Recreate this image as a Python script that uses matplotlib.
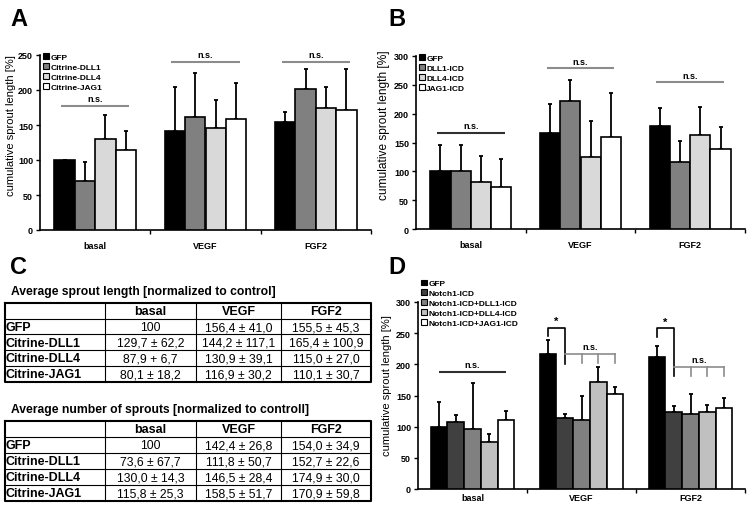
import numpy as np
import matplotlib
matplotlib.use('Agg')
import matplotlib.pyplot as plt
from matplotlib.patches import Patch

plt.rcParams['font.family'] = ['Liberation Sans', 'DejaVu Sans']

# categories
groups = ['basal', 'VEGF', 'FGF2']

# panel A: Citrine ligands
a_names = ['GFP', 'Citrine-DLL1', 'Citrine-DLL4', 'Citrine-JAG1']
a_mean = [[100, 142, 154],
          [70, 161, 202],
          [130, 146, 175],
          [115, 158, 171]]
a_err = [[0, 62, 14],
         [27, 63, 28],
         [35, 40, 30],
         [26, 52, 59]]
a_ns = [177, 240, 240]

# panel B: ICD constructs
b_names = ['GFP', 'DLL1-ICD', 'DLL4-ICD', 'JAG1-ICD']
b_mean = [[100, 167, 179],
          [101, 222, 116],
          [81, 125, 163],
          [72, 159, 138]]
b_err = [[45, 49, 30],
         [45, 36, 37],
         [45, 63, 49],
         [50, 76, 39]]
b_ns = [167, 279, 255]

# panel D: Notch1-ICD combinations
d_names = ['GFP', 'Notch1-ICD', 'Notch1-ICD+DLL1-ICD', 'Notch1-ICD+DLL4-ICD', 'Notch1-ICD+JAG1-ICD']
d_mean = [[100, 216, 211],
          [107, 114, 124],
          [97, 110, 120],
          [75, 172, 123],
          [110, 152, 130]]
d_err = [[39, 23, 18],
         [12, 7, 9],
         [73, 40, 33],
         [13, 23, 12],
         [15, 12, 16]]

# panel C: tables
tab_cols = ['basal', 'VEGF', 'FGF2']
tab_rows = ['GFP', 'Citrine-DLL1', 'Citrine-DLL4', 'Citrine-JAG1']
tab1_title = 'Average sprout length [normalized to control]'
tab1_cells = [['100', '156,4 ± 41,0', '155,5 ± 45,3'],
              ['129,7 ± 62,2', '144,2 ± 117,1', '165,4 ± 100,9'],
              ['87,9 + 6,7', '130,9 ± 39,1', '115,0 ± 27,0'],
              ['80,1 ± 18,2', '116,9 ± 30,2', '110,1 ± 30,7']]
tab2_title = 'Average number of sprouts [normalized to controll]'
tab2_cells = [['100', '142,4 ± 26,8', '154,0 ± 34,9'],
              ['73,6 ± 67,7', '111,8 ± 50,7', '152,7 ± 22,6'],
              ['130,0 ± 14,3', '146,5 ± 28,4', '174,9 ± 30,0'],
              ['115,8 ± 25,3', '158,5 ± 51,7', '170,9 ± 59,8']]

grays4 = ['black', '#808080', '#d9d9d9', 'white']
grays5 = ['black', '#404040', '#808080', '#c0c0c0', 'white']

W, H = 750, 506
fig = plt.figure(figsize=(7.5, 5.06), dpi=100)


def px_axes(l, t, r, b):
    return fig.add_axes([l / W, 1 - b / H, (r - l) / W, (b - t) / H])


def bar_panel(ax, names, means, errs, colors, ymax, groupw, xpad=8, ylab_xy=(-0.072, 0.6), ylab_size=8):
    n = len(names)
    w = groupw / n
    x = np.arange(len(groups))
    for i in range(n):
        xi = x + (i - (n - 1) / 2) * w
        ax.bar(xi, means[i], w, color=colors[i], edgecolor='black', linewidth=1.2,
               label=names[i], zorder=3)
        ax.errorbar(xi, means[i], yerr=[np.zeros(len(groups)), errs[i]], fmt='none',
                    ecolor='black', elinewidth=1.3, capsize=1.2, capthick=1.3, zorder=2)
    ax.set_xlim(-0.5, 2.5)
    ax.set_ylim(0, ymax)
    ax.set_yticks(np.arange(0, ymax + 1, 50))
    ax.set_xticks(x)
    ax.set_xticklabels(groups, fontsize=6.5, fontweight='bold')
    ax.set_xticks([0.5, 1.5, 2.5], minor=True)
    ax.tick_params(axis='x', which='major', length=0, pad=xpad)
    ax.tick_params(axis='x', which='minor', length=3, width=1, direction='out')
    ax.tick_params(axis='y', length=3, width=1, labelsize=6.5, pad=2)
    for lab in ax.get_yticklabels():
        lab.set_fontweight('bold')
    for s in ['top', 'right']:
        ax.spines[s].set_visible(False)
    for s in ['left', 'bottom']:
        ax.spines[s].set_linewidth(1.2)
    ax.set_ylabel('cumulative sprout length [%]', fontsize=ylab_size, labelpad=3)
    ax.yaxis.set_label_coords(*ylab_xy)
    return x, w


def ns_line(ax, xc, y, color, half=0.31):
    ax.plot([xc - half, xc + half], [y, y], color=color, lw=1.5, solid_capstyle='butt')
    ax.text(xc, y + 4, 'n.s.', ha='center', va='bottom', fontsize=6.5, fontweight='bold')


def legend(ax, names, colors, anchor):
    h = [Patch(facecolor=c, edgecolor='black', linewidth=0.8) for c in colors]
    ax.legend(h, names, loc='upper left', bbox_to_anchor=anchor, frameon=False,
              prop={'size': 6, 'weight': 'bold'}, handlelength=0.7, handleheight=0.7,
              handletextpad=0.15, labelspacing=0.25, borderaxespad=0, borderpad=0)


# ---- A
axA = px_axes(40, 56, 371, 231)
x, w = bar_panel(axA, a_names, a_mean, a_err, grays4, 250, 0.74, ylab_xy=(-0.072, 0.6))
for k in range(3):
    ns_line(axA, x[k], a_ns[k], '#8c8c8c')
legend(axA, a_names, grays4, (0.01, 1.01))

# ---- B
axB = px_axes(416, 57, 745, 230)
x, w = bar_panel(axB, b_names, b_mean, b_err, grays4, 300, 0.74, ylab_xy=(-0.078, 0.607), ylab_size=8.6)
ns_line(axB, x[0], b_ns[0], '#303030')
ns_line(axB, x[1], b_ns[1], '#8c8c8c')
ns_line(axB, x[2], b_ns[2], '#8c8c8c')
legend(axB, b_names, grays4, (0.01, 1.01))

# ---- D
axD = px_axes(418, 303, 745, 490)
x, w = bar_panel(axD, d_names, d_mean, d_err, grays5, 300, 0.77, xpad=3, ylab_xy=(-0.08, 0.56))
ns_line(axD, x[0], 188, '#303030')
legend(axD, d_names, grays5, (0.01, 1.12))
# significance brackets
star = [(1, 259, 246, 200, 216, 202), (2, 258, 244, 181, 196, 181)]
for k, top, lft, rgt, nsy, tk in star:
    xs = x[k] + (np.arange(5) - 2) * w
    axD.plot([xs[0], xs[0], xs[1], xs[1]], [lft, top, top, rgt], color='black', lw=1.2)
    axD.text((xs[0] + xs[1]) / 2, top + 2, '*', ha='center', va='bottom', fontsize=8, fontweight='bold')
    axD.plot([xs[1], xs[4]], [nsy, nsy], color='#8c8c8c', lw=1.2)
    for xx in xs[2:]:
        axD.plot([xx, xx], [nsy, tk], color='#8c8c8c', lw=1.2)
    axD.text((xs[2] + xs[3]) / 2, nsy + 5, 'n.s.', ha='center', va='bottom', fontsize=6.5, fontweight='bold')

# ---- C tables
axC = fig.add_axes([0, 0, 0.5, 1 - 250 / H])
axC.set_xlim(0, 375)
axC.set_ylim(506, 250)
axC.axis('off')

col_x = [5, 105, 196, 281, 371]


def draw_table(top, title, cells, rh=15.8):
    axC.text(11, top - 12, title, ha='left', va='center', fontsize=8.7, fontweight='bold')
    nrow = len(tab_rows) + 1
    bottom = top + nrow * rh
    for i in range(1, nrow):
        axC.plot([col_x[0], col_x[-1]], [top + i * rh] * 2, color='black', lw=0.8)
    for cx in col_x[1:-1]:
        axC.plot([cx, cx], [top, bottom], color='black', lw=0.8)
    axC.plot([col_x[0], col_x[-1], col_x[-1], col_x[0], col_x[0]],
             [top, top, bottom, bottom, top], color='black', lw=1.5)
    for j, c in enumerate(tab_cols):
        axC.text((col_x[j + 1] + col_x[j + 2]) / 2, top + rh / 2 + 0.5, c,
                 ha='center', va='center', fontsize=9, fontweight='bold')
    for i, r in enumerate(tab_rows):
        yy = top + (i + 1.5) * rh + 0.5
        axC.text(col_x[0] + 0.5, yy, r, ha='left', va='center', fontsize=9, fontweight='bold')
        for j in range(3):
            axC.text((col_x[j + 1] + col_x[j + 2]) / 2, yy, cells[i][j],
                     ha='center', va='center', fontsize=8.7)


draw_table(304, tab1_title, tab1_cells, 15.7)
draw_table(422, tab2_title, tab2_cells, 16)

# panel letters
for lbl, xx, yy in [('A', 10, 8), ('B', 388, 8), ('C', 10, 256), ('D', 388, 256)]:
    fig.text(xx / W, 1 - yy / H, lbl, ha='left', va='top', fontsize=17, fontweight='bold')

fig.savefig('out.png', dpi=100)
